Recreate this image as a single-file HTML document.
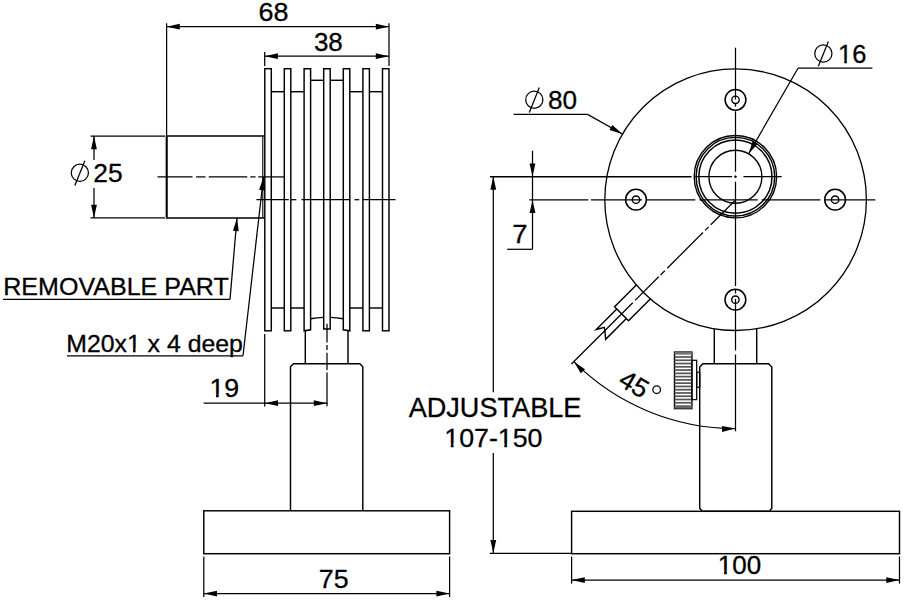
<!DOCTYPE html>
<html><head><meta charset="utf-8"><title>drawing</title>
<style>
html,body{margin:0;padding:0;background:#fff;}
body{width:913px;height:600px;overflow:hidden;}
svg{display:block;}
text{font-family:"Liberation Sans",sans-serif;fill:#000;stroke:#000;stroke-width:0.3px;}
</style></head><body>
<svg width="913" height="600" viewBox="0 0 913 600">
<rect x="0" y="0" width="913" height="600" fill="#fff" stroke="none"/>
<g fill="none" stroke="#000" stroke-linecap="butt">
<rect x="264.80" y="68.70" width="6.50" height="262.10" stroke-width="1.45" fill="none"/>
<rect x="284.30" y="68.70" width="6.50" height="262.10" stroke-width="1.45" fill="none"/>
<path d="M304.1,330.8 L304.1,68.7 L310.6,68.7 L310.6,329.8 Z" stroke-width="1.45" fill="none"/>
<path d="M323.7,329 L323.7,68.7 L330.2,68.7 L330.2,329 Z" stroke-width="1.45" fill="none"/>
<path d="M343.3,329.8 L343.3,68.7 L349.8,68.7 L349.8,330.8 Z" stroke-width="1.45" fill="none"/>
<rect x="362.90" y="68.70" width="6.50" height="262.10" stroke-width="1.45" fill="none"/>
<rect x="382.50" y="68.70" width="6.50" height="262.10" stroke-width="1.45" fill="none"/>
<line x1="271.30" y1="91.70" x2="284.30" y2="91.70" stroke-width="1.45"/>
<line x1="271.30" y1="308.00" x2="284.30" y2="308.00" stroke-width="1.45"/>
<line x1="290.80" y1="91.70" x2="304.10" y2="91.70" stroke-width="1.45"/>
<line x1="290.80" y1="308.00" x2="304.10" y2="308.00" stroke-width="1.45"/>
<line x1="349.80" y1="91.70" x2="362.90" y2="91.70" stroke-width="1.45"/>
<line x1="349.80" y1="308.00" x2="362.90" y2="308.00" stroke-width="1.45"/>
<line x1="369.40" y1="91.70" x2="382.50" y2="91.70" stroke-width="1.45"/>
<line x1="369.40" y1="308.00" x2="382.50" y2="308.00" stroke-width="1.45"/>
<line x1="310.60" y1="80.30" x2="323.70" y2="80.30" stroke-width="1.45"/>
<line x1="330.20" y1="80.30" x2="343.30" y2="80.30" stroke-width="1.45"/>
<path d="M310.6,318.8 Q317.15,317.6 323.7,317.4" stroke-width="1.45" fill="none"/>
<path d="M330.2,317.4 Q336.75,317.6 343.3,318.8" stroke-width="1.45" fill="none"/>
<path d="M264.2,136 L166.6,136 L166.6,217.9 L264.2,217.9" stroke-width="1.45" fill="none"/>
<line x1="166.70" y1="136.00" x2="166.70" y2="217.90" stroke-width="1.9"/>
<line x1="262.80" y1="136.00" x2="262.80" y2="217.90" stroke-width="1.1"/>
<line x1="157.50" y1="176.90" x2="192.50" y2="176.90" stroke-width="1.25"/>
<line x1="196.00" y1="176.90" x2="205.50" y2="176.90" stroke-width="1.25"/>
<line x1="208.70" y1="176.90" x2="247.30" y2="176.90" stroke-width="1.25"/>
<line x1="250.30" y1="176.90" x2="255.50" y2="176.90" stroke-width="1.25"/>
<line x1="258.20" y1="176.90" x2="284.30" y2="176.90" stroke-width="1.25"/>
<line x1="256.40" y1="199.70" x2="288.80" y2="199.70" stroke-width="1.25"/>
<line x1="291.20" y1="199.70" x2="296.30" y2="199.70" stroke-width="1.25"/>
<line x1="301.50" y1="199.70" x2="350.20" y2="199.70" stroke-width="1.25"/>
<line x1="354.50" y1="199.70" x2="359.20" y2="199.70" stroke-width="1.25"/>
<line x1="362.90" y1="199.70" x2="395.50" y2="199.70" stroke-width="1.25"/>
<line x1="327.00" y1="323.80" x2="327.00" y2="342.50" stroke-width="1.25"/>
<line x1="327.00" y1="345.00" x2="327.00" y2="350.00" stroke-width="1.25"/>
<line x1="327.00" y1="352.80" x2="327.00" y2="370.00" stroke-width="1.25"/>
<line x1="327.00" y1="372.50" x2="327.00" y2="406.30" stroke-width="1.25"/>
<line x1="305.30" y1="331.00" x2="305.30" y2="363.80" stroke-width="1.45"/>
<line x1="348.00" y1="331.00" x2="348.00" y2="363.80" stroke-width="1.45"/>
<path d="M290.5,510.8 L290.5,366.8 L293.5,363.8 L359.8,363.8 L362.8,366.8 L362.8,510.8" stroke-width="1.45" fill="none"/>
<rect x="203.80" y="510.80" width="245.80" height="42.90" stroke-width="1.45" fill="none"/>
<line x1="166.60" y1="23.30" x2="166.60" y2="136.00" stroke-width="1.25"/>
<line x1="389.00" y1="23.30" x2="389.00" y2="66.00" stroke-width="1.25"/>
<line x1="166.60" y1="26.70" x2="389.00" y2="26.70" stroke-width="1.25"/>
<polygon points="166.60,26.70 179.80,23.80 179.80,29.60" fill="#000" stroke="none"/>
<polygon points="389.00,26.70 375.80,29.60 375.80,23.80" fill="#000" stroke="none"/>
<text transform="translate(258.56 21.00) scale(1.0296 1)" font-size="26.2">68</text>
<line x1="264.70" y1="52.00" x2="264.70" y2="66.00" stroke-width="1.25"/>
<line x1="264.70" y1="56.20" x2="389.00" y2="56.20" stroke-width="1.25"/>
<polygon points="264.70,56.20 277.90,53.30 277.90,59.10" fill="#000" stroke="none"/>
<polygon points="389.00,56.20 375.80,59.10 375.80,53.30" fill="#000" stroke="none"/>
<text transform="translate(313.91 51.10) scale(0.9927 1)" font-size="26.2">38</text>
<line x1="90.50" y1="136.00" x2="166.60" y2="136.00" stroke-width="1.25"/>
<line x1="90.50" y1="217.90" x2="166.60" y2="217.90" stroke-width="1.25"/>
<line x1="94.00" y1="136.00" x2="94.00" y2="160.00" stroke-width="1.25"/>
<line x1="94.00" y1="188.00" x2="94.00" y2="217.90" stroke-width="1.25"/>
<polygon points="94.00,136.00 96.90,149.20 91.10,149.20" fill="#000" stroke="none"/>
<polygon points="94.00,217.90 91.10,204.70 96.90,204.70" fill="#000" stroke="none"/>
<circle cx="79.85" cy="172.80" r="8.60" stroke-width="1.25" fill="none"/>
<line x1="84.85" y1="160.70" x2="74.85" y2="185.50" stroke-width="1.25"/>
<text transform="translate(93.29 181.55) scale(1.0056 1)" font-size="26.2">25</text>
<circle cx="165.7" cy="136.1" r="0.75" fill="#fff" stroke="none"/>
<circle cx="165.7" cy="217.8" r="0.75" fill="#fff" stroke="none"/>
<text transform="translate(3.22 295.30) scale(1.0148 1)" font-size="24.7">REMOVABLE PART</text>
<line x1="3.00" y1="299.40" x2="230.00" y2="299.40" stroke-width="1.35"/>
<line x1="230.00" y1="299.40" x2="237.00" y2="217.90" stroke-width="1.25"/>
<polygon points="237.00,217.90 238.76,231.30 232.98,230.80" fill="#000" stroke="none"/>
<text transform="translate(66.24 351.80) scale(1.0055 1)" font-size="24.7">M20x1 x 4 deep</text><rect x="127.42" y="348.50" width="5.56" height="5.75" fill="#fff" stroke="none"/><rect x="135.57" y="348.50" width="5.00" height="5.75" fill="#fff" stroke="none"/>
<line x1="67.00" y1="355.80" x2="243.00" y2="355.80" stroke-width="1.35"/>
<line x1="243.00" y1="355.80" x2="263.50" y2="177.00" stroke-width="1.25"/>
<polygon points="263.50,177.00 264.88,190.44 259.12,189.78" fill="#000" stroke="none"/>
<line x1="264.70" y1="334.00" x2="264.70" y2="406.40" stroke-width="1.25"/>
<line x1="203.60" y1="403.20" x2="327.40" y2="403.20" stroke-width="1.25"/>
<polygon points="264.80,403.20 278.00,400.30 278.00,406.10" fill="#000" stroke="none"/>
<polygon points="327.00,403.20 313.80,406.10 313.80,400.30" fill="#000" stroke="none"/>
<text transform="translate(209.45 397.10) scale(1.0214 1)" font-size="26.2">19</text><rect x="209.97" y="393.69" width="6.01" height="5.86" fill="#fff" stroke="none"/><rect x="218.75" y="393.69" width="5.41" height="5.86" fill="#fff" stroke="none"/>
<line x1="203.80" y1="556.50" x2="203.80" y2="597.00" stroke-width="1.25"/>
<line x1="449.60" y1="556.50" x2="449.60" y2="597.00" stroke-width="1.25"/>
<line x1="203.80" y1="593.60" x2="449.60" y2="593.60" stroke-width="1.25"/>
<polygon points="203.80,593.60 217.00,590.70 217.00,596.50" fill="#000" stroke="none"/>
<polygon points="449.60,593.60 436.40,596.50 436.40,590.70" fill="#000" stroke="none"/>
<text transform="translate(318.77 587.65) scale(1.0222 1)" font-size="26.2">75</text>
<circle cx="735.60" cy="199.70" r="130.80" stroke-width="1.3" fill="none"/>
<circle cx="735.40" cy="176.70" r="41.20" stroke-width="1.4" fill="none"/>
<circle cx="735.40" cy="176.70" r="39.30" stroke-width="1.4" fill="none"/>
<circle cx="735.40" cy="176.70" r="36.60" stroke-width="1.5" fill="none"/>
<circle cx="735.40" cy="176.70" r="26.50" stroke-width="1.4" fill="none"/>
<circle cx="735.50" cy="99.80" r="10.40" stroke-width="1.5" fill="none"/>
<circle cx="735.50" cy="99.80" r="3.70" stroke-width="1.4" fill="none"/>
<circle cx="636.00" cy="199.70" r="10.40" stroke-width="1.5" fill="none"/>
<circle cx="636.00" cy="199.70" r="3.70" stroke-width="1.4" fill="none"/>
<circle cx="835.10" cy="199.70" r="10.40" stroke-width="1.5" fill="none"/>
<circle cx="835.10" cy="199.70" r="3.70" stroke-width="1.4" fill="none"/>
<circle cx="735.40" cy="299.70" r="10.40" stroke-width="1.5" fill="none"/>
<circle cx="735.40" cy="299.70" r="3.70" stroke-width="1.4" fill="none"/>
<line x1="735.50" y1="47.70" x2="735.50" y2="99.50" stroke-width="1.25"/>
<line x1="735.50" y1="103.30" x2="735.50" y2="106.70" stroke-width="1.25"/>
<line x1="735.50" y1="111.30" x2="735.50" y2="171.70" stroke-width="1.25"/>
<line x1="735.50" y1="175.40" x2="735.50" y2="178.00" stroke-width="1.25"/>
<line x1="735.50" y1="181.70" x2="735.50" y2="286.00" stroke-width="1.25"/>
<line x1="735.50" y1="290.00" x2="735.50" y2="293.50" stroke-width="1.25"/>
<line x1="735.50" y1="299.00" x2="735.50" y2="350.50" stroke-width="1.25"/>
<line x1="735.50" y1="354.50" x2="735.50" y2="431.30" stroke-width="1.25"/>
<line x1="529.30" y1="199.75" x2="588.30" y2="199.75" stroke-width="1.25"/>
<line x1="590.90" y1="199.75" x2="642.00" y2="199.75" stroke-width="1.25"/>
<line x1="646.70" y1="199.75" x2="695.30" y2="199.75" stroke-width="1.25"/>
<line x1="699.40" y1="199.75" x2="757.70" y2="199.75" stroke-width="1.25"/>
<line x1="761.80" y1="199.75" x2="820.40" y2="199.75" stroke-width="1.25"/>
<line x1="824.90" y1="199.75" x2="875.30" y2="199.75" stroke-width="1.25"/>
<line x1="490.00" y1="176.70" x2="691.50" y2="176.70" stroke-width="1.5"/>
<line x1="695.30" y1="176.70" x2="732.00" y2="176.70" stroke-width="1.25"/>
<line x1="734.20" y1="176.70" x2="736.80" y2="176.70" stroke-width="1.25"/>
<line x1="743.50" y1="176.70" x2="781.70" y2="176.70" stroke-width="1.25"/>
<line x1="735.50" y1="200.00" x2="710.75" y2="224.75" stroke-width="1.25"/>
<line x1="708.63" y1="226.87" x2="705.09" y2="230.41" stroke-width="1.25"/>
<line x1="702.97" y1="232.53" x2="667.26" y2="268.24" stroke-width="1.25"/>
<line x1="664.79" y1="270.71" x2="660.55" y2="274.95" stroke-width="1.25"/>
<line x1="658.71" y1="276.79" x2="635.09" y2="300.41" stroke-width="1.25"/>
<line x1="632.76" y1="302.74" x2="571.45" y2="364.05" stroke-width="1.25"/>
<path d="M636.58,284.78 L614.58,306.77 L628.51,320.70 L650.51,298.71" stroke-width="1.45" fill="none"/>
<path d="M616.78,308.97 L596.27,329.47 L604.3,327.3 L604.8,330.2 L605.68,339.30 L626.39,318.58" stroke-width="1.45" fill="none"/>
<path d="M573.86,361.64 A228.6,228.6 0 0 0 735.50,428.60" stroke-width="1.2" fill="none"/>
<polygon points="573.86,361.64 585.02,369.27 580.79,373.24" fill="#000" stroke="none"/>
<polygon points="735.20,428.60 722.09,431.89 721.92,426.10" fill="#000" stroke="none"/>
<text transform="translate(617.00 384.40) rotate(30.5)" font-size="26.2">45</text>
<circle cx="656.70" cy="389.70" r="3.80" stroke-width="1.3" fill="none"/>
<line x1="714.30" y1="329.00" x2="714.30" y2="363.80" stroke-width="1.45"/>
<line x1="756.70" y1="329.00" x2="756.70" y2="363.80" stroke-width="1.45"/>
<path d="M699.7,508.3 L699.7,367 L702.9,363.8 L768.6,363.8 L771.8,367 L771.8,508.3 L769.3,511.3 L702.2,511.3 Z" stroke-width="1.45" fill="none"/>
<rect x="571.60" y="511.30" width="327.90" height="42.40" stroke-width="1.45" fill="none"/>
<rect x="674.50" y="352.10" width="17.40" height="56.50" stroke-width="1.45" fill="none"/>
<rect x="674.5" y="352.1" width="17.4" height="2.6" fill="#777" stroke="none"/>
<rect x="674.5" y="405.2" width="17.4" height="3.4" fill="#666" stroke="none"/>
<line x1="674.5" y1="357.00" x2="691.9" y2="357.00" stroke="#555" stroke-width="1.7"/>
<line x1="674.5" y1="360.27" x2="691.9" y2="360.27" stroke="#555" stroke-width="1.7"/>
<line x1="674.5" y1="363.54" x2="691.9" y2="363.54" stroke="#555" stroke-width="1.7"/>
<line x1="674.5" y1="366.81" x2="691.9" y2="366.81" stroke="#555" stroke-width="1.7"/>
<line x1="674.5" y1="370.08" x2="691.9" y2="370.08" stroke="#555" stroke-width="1.7"/>
<line x1="674.5" y1="373.35" x2="691.9" y2="373.35" stroke="#555" stroke-width="1.7"/>
<line x1="674.5" y1="376.62" x2="691.9" y2="376.62" stroke="#555" stroke-width="1.7"/>
<line x1="674.5" y1="379.89" x2="691.9" y2="379.89" stroke="#555" stroke-width="1.7"/>
<line x1="674.5" y1="383.16" x2="691.9" y2="383.16" stroke="#555" stroke-width="1.7"/>
<line x1="674.5" y1="386.43" x2="691.9" y2="386.43" stroke="#555" stroke-width="1.7"/>
<line x1="674.5" y1="389.70" x2="691.9" y2="389.70" stroke="#555" stroke-width="1.7"/>
<line x1="674.5" y1="392.97" x2="691.9" y2="392.97" stroke="#555" stroke-width="1.7"/>
<line x1="674.5" y1="396.24" x2="691.9" y2="396.24" stroke="#555" stroke-width="1.7"/>
<line x1="674.5" y1="399.51" x2="691.9" y2="399.51" stroke="#555" stroke-width="1.7"/>
<line x1="674.5" y1="402.78" x2="691.9" y2="402.78" stroke="#555" stroke-width="1.7"/>
<rect x="691.90" y="360.30" width="4.80" height="39.30" stroke-width="1.25" fill="none"/>
<rect x="696.70" y="372.30" width="3.10" height="15.00" stroke-width="1.25" fill="none"/>
<circle cx="534.30" cy="99.70" r="8.60" stroke-width="1.25" fill="none"/>
<line x1="539.30" y1="87.60" x2="529.30" y2="112.40" stroke-width="1.25"/>
<text transform="translate(548.05 108.75) scale(0.9982 1)" font-size="26.2">80</text>
<line x1="513.60" y1="114.40" x2="587.60" y2="114.40" stroke-width="1.25"/>
<line x1="587.60" y1="114.40" x2="622.40" y2="134.00" stroke-width="1.25"/>
<polygon points="622.40,134.00 609.48,130.05 612.32,125.00" fill="#000" stroke="none"/>
<circle cx="823.35" cy="53.50" r="8.60" stroke-width="1.25" fill="none"/>
<line x1="828.35" y1="41.40" x2="818.35" y2="66.20" stroke-width="1.25"/>
<text transform="translate(838.07 62.75) scale(0.9709 1)" font-size="26.2">16</text><rect x="838.56" y="59.34" width="5.70" height="5.86" fill="#fff" stroke="none"/><rect x="846.91" y="59.34" width="5.13" height="5.86" fill="#fff" stroke="none"/>
<line x1="798.00" y1="68.20" x2="872.40" y2="68.20" stroke-width="1.25"/>
<line x1="798.00" y1="68.20" x2="748.65" y2="153.75" stroke-width="1.25"/>
<polygon points="748.65,153.75 752.74,140.87 757.76,143.77" fill="#000" stroke="none"/>
<line x1="532.50" y1="150.70" x2="532.50" y2="249.30" stroke-width="1.25"/>
<line x1="507.20" y1="249.30" x2="532.50" y2="249.30" stroke-width="1.25"/>
<polygon points="532.50,176.60 529.60,163.40 535.40,163.40" fill="#000" stroke="none"/>
<polygon points="532.50,199.80 535.40,213.00 529.60,213.00" fill="#000" stroke="none"/>
<text transform="translate(512.14 243.30) scale(1.0449 1)" font-size="26.2">7</text>
<line x1="493.30" y1="176.60" x2="493.30" y2="392.30" stroke-width="1.25"/>
<line x1="493.30" y1="453.00" x2="493.30" y2="553.30" stroke-width="1.25"/>
<polygon points="493.30,176.60 496.20,189.80 490.40,189.80" fill="#000" stroke="none"/>
<polygon points="493.30,553.30 490.40,540.10 496.20,540.10" fill="#000" stroke="none"/>
<line x1="489.80" y1="553.30" x2="571.60" y2="553.30" stroke-width="1.25"/>
<text transform="translate(408.65 417.00) scale(1.0079 1)" font-size="26.9">ADJUSTABLE</text>
<text transform="translate(444.25 446.95) scale(1.0215 1)" font-size="26.2">107-150</text><rect x="444.77" y="443.54" width="6.01" height="5.86" fill="#fff" stroke="none"/><rect x="453.55" y="443.54" width="5.41" height="5.86" fill="#fff" stroke="none"/><rect x="498.31" y="443.54" width="6.01" height="5.86" fill="#fff" stroke="none"/><rect x="507.08" y="443.54" width="5.41" height="5.86" fill="#fff" stroke="none"/>
<line x1="571.60" y1="556.50" x2="571.60" y2="583.60" stroke-width="1.25"/>
<line x1="899.50" y1="556.50" x2="899.50" y2="583.60" stroke-width="1.25"/>
<line x1="571.60" y1="580.10" x2="899.50" y2="580.10" stroke-width="1.25"/>
<polygon points="571.60,580.10 584.80,577.20 584.80,583.00" fill="#000" stroke="none"/>
<polygon points="899.50,580.10 886.30,583.00 886.30,577.20" fill="#000" stroke="none"/>
<text transform="translate(717.82 573.75) scale(0.9926 1)" font-size="26.2">100</text><rect x="718.32" y="570.34" width="5.83" height="5.86" fill="#fff" stroke="none"/><rect x="726.85" y="570.34" width="5.25" height="5.86" fill="#fff" stroke="none"/>
</g>
</svg>
</body></html>
